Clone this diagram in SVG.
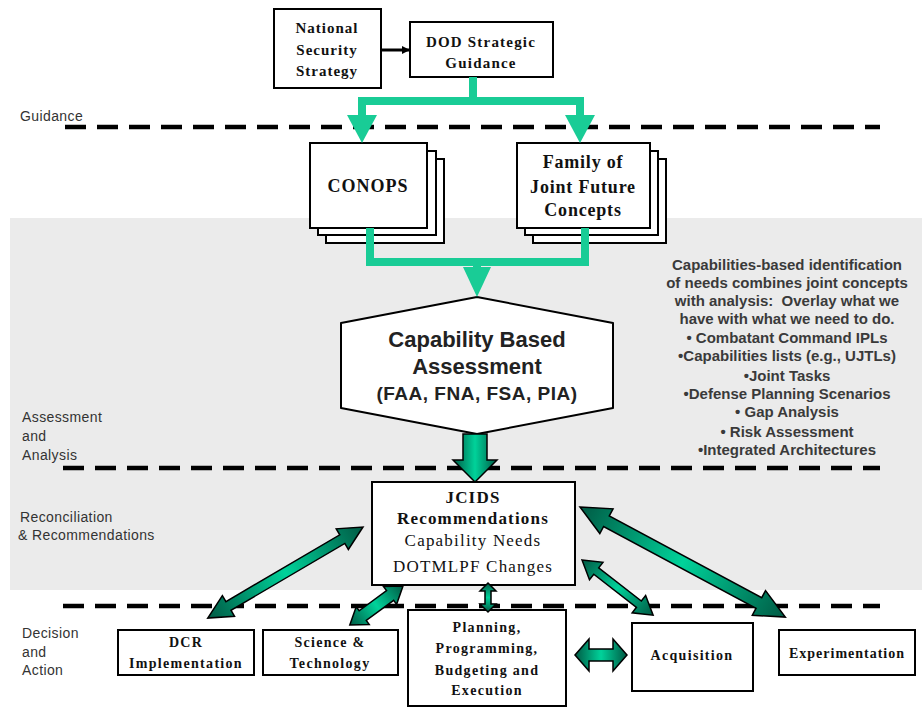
<svg xmlns="http://www.w3.org/2000/svg" width="922" height="707" viewBox="0 0 922 707">
<defs>
<linearGradient id="dg" x1="0" y1="0" x2="1" y2="0">
<stop offset="0" stop-color="#005A44"/>
<stop offset="0.5" stop-color="#00D29A"/>
<stop offset="1" stop-color="#005A44"/>
</linearGradient>
<marker id="blk" markerWidth="8" markerHeight="8" refX="7" refY="4" orient="auto" markerUnits="userSpaceOnUse">
<path d="M0,0 L8,4 L0,8 Z" fill="#000"/>
</marker>
</defs>
<style>
.box{fill:#fff;stroke:#000;stroke-width:2}
.st{font-family:"Liberation Serif",serif;font-weight:bold;fill:#111;text-anchor:middle}
.sr{font-family:"Liberation Serif",serif;fill:#111;text-anchor:middle}
.lab{font-family:"Liberation Sans",Arial,sans-serif;font-size:14px;fill:#333;letter-spacing:0.4px}
.dash{stroke:#000;stroke-width:4.5;stroke-dasharray:21 11;fill:none}
.grn{stroke:#19CC96;stroke-width:8;fill:none}
.gh{fill:#19CC96}
.da{fill:url(#dg);stroke:#000;stroke-width:1.5;stroke-linejoin:miter}
.rt{font-family:"Liberation Sans",Arial,sans-serif;font-size:15px;font-weight:bold;fill:#3a3a3a;text-anchor:middle}
</style>
<rect x="10" y="218" width="912" height="372" fill="#EBEBEB"/>
<g id="phase-lines">
<line class="dash" x1="65" y1="127" x2="880" y2="127"/>
<line class="dash" x1="63" y1="468" x2="880" y2="468"/>
<line class="dash" x1="63" y1="606" x2="880" y2="606"/>
</g>
<g id="phase-labels">
<text class="lab" x="20" y="121">Guidance</text>
<text class="lab" x="22" y="422">Assessment</text>
<text class="lab" x="22" y="441">and</text>
<text class="lab" x="22" y="460">Analysis</text>
<text class="lab" x="20" y="522">Reconciliation</text>
<text class="lab" x="18" y="540">&amp; Recommendations</text>
<text class="lab" x="22" y="638">Decision</text>
<text class="lab" x="22" y="657">and</text>
<text class="lab" x="22" y="675">Action</text>
</g>
<g id="nss">
<rect class="box" x="274" y="9" width="107" height="79"/>
<text class="st" font-size="15" letter-spacing="1" x="327" y="33">National</text>
<text class="st" font-size="15" letter-spacing="1" x="327" y="55">Security</text>
<text class="st" font-size="15" letter-spacing="1" x="327" y="76">Strategy</text>
</g>
<g id="dod">
<rect class="box" x="410" y="22" width="143" height="55"/>
<text class="st" font-size="15" letter-spacing="1.2" x="481" y="47">DOD Strategic</text>
<text class="st" font-size="15" letter-spacing="1.2" x="481" y="68">Guidance</text>
</g>
<g id="conops">
<rect class="box" x="326" y="159" width="118" height="84"/>
<rect class="box" x="318" y="151" width="118" height="84"/>
<rect class="box" x="310" y="143" width="117" height="85"/>
<text class="st" font-size="18" letter-spacing="1" x="368" y="192">CONOPS</text>
</g>
<g id="family">
<rect class="box" x="533" y="159" width="133" height="84"/>
<rect class="box" x="525" y="151" width="133" height="84"/>
<rect class="box" x="517" y="143" width="133" height="85"/>
<text class="st" font-size="18" letter-spacing="0.8" x="583" y="168">Family of</text>
<text class="st" font-size="18" letter-spacing="0.8" x="583" y="193">Joint Future</text>
<text class="st" font-size="18" letter-spacing="0.8" x="583" y="216">Concepts</text>
</g>
<g id="cba">
<path d="M477,297 L613,323 L613,408 L477,434 L341,408 L341,323 Z" fill="#fff" stroke="#000" stroke-width="2" stroke-linejoin="round"/>
<text font-family="Liberation Sans,Arial,sans-serif" font-weight="bold" font-size="22" fill="#222" text-anchor="middle" x="477" y="347">Capability Based</text>
<text font-family="Liberation Sans,Arial,sans-serif" font-weight="bold" font-size="22" fill="#222" text-anchor="middle" x="477" y="374">Assessment</text>
<text font-family="Liberation Sans,Arial,sans-serif" font-weight="bold" font-size="19" fill="#222" text-anchor="middle" x="477" y="400" letter-spacing="0.5">(FAA, FNA, FSA, PIA)</text>
</g>
<g id="note">
<text class="rt" x="787" y="270">Capabilities-based identification</text>
<text class="rt" x="787" y="288">of needs combines joint concepts</text>
<text class="rt" x="787" y="306">with analysis:&#160; Overlay what we</text>
<text class="rt" x="787" y="324">have with what we need to do.</text>
<text class="rt" x="787" y="343">• Combatant Command IPLs</text>
<text class="rt" x="787" y="361">•Capabilities lists (e.g., UJTLs)</text>
<text class="rt" x="787" y="381">•Joint Tasks</text>
<text class="rt" x="787" y="399">•Defense Planning Scenarios</text>
<text class="rt" x="787" y="417">• Gap Analysis</text>
<text class="rt" x="787" y="437">• Risk Assessment</text>
<text class="rt" x="787" y="455">•Integrated Architectures</text>
</g>
<g id="jcids">
<rect class="box" x="372" y="482" width="203" height="103"/>
<text class="st" font-size="17" letter-spacing="1.2" x="473" y="503">JCIDS</text>
<text class="st" font-size="17" letter-spacing="1.2" x="473" y="524">Recommendations</text>
<text class="sr" font-size="17" letter-spacing="1.2" x="473" y="546">Capability Needs</text>
<text class="sr" font-size="17" letter-spacing="1.2" x="473" y="572">DOTMLPF Changes</text>
</g>
<g id="dcr">
<rect class="box" x="118" y="630" width="136" height="45"/>
<text class="st" font-size="14" letter-spacing="1.3" x="186" y="647">DCR</text>
<text class="st" font-size="14" letter-spacing="1.3" x="186" y="668">Implementation</text>
</g>
<g id="st">
<rect class="box" x="263" y="630" width="135" height="45"/>
<text class="st" font-size="14" letter-spacing="1.3" x="330" y="647">Science &amp;</text>
<text class="st" font-size="14" letter-spacing="1.3" x="330" y="668">Technology</text>
</g>
<g id="ppbe">
<rect class="box" x="408" y="610" width="158" height="96"/>
<text class="st" font-size="14" letter-spacing="1.3" x="487" y="632">Planning,</text>
<text class="st" font-size="14" letter-spacing="1.3" x="487" y="653">Programming,</text>
<text class="st" font-size="14" letter-spacing="1.3" x="487" y="675">Budgeting and</text>
<text class="st" font-size="14" letter-spacing="1.3" x="487" y="695">Execution</text>
</g>
<g id="acq">
<rect class="box" x="632" y="623" width="121" height="68"/>
<text class="st" font-size="14" letter-spacing="1.3" x="692" y="660">Acquisition</text>
</g>
<g id="exp">
<rect class="box" x="779" y="630" width="136" height="45"/>
<text class="st" font-size="14" letter-spacing="1" x="847" y="658">Experimentation</text>
</g>
<g id="connectors">
<line x1="381" y1="50" x2="409" y2="50" stroke="#000" stroke-width="3" marker-end="url(#blk)"/>
<polyline class="grn" points="473,77 473,101"/>
<polyline class="grn" points="362,116 362,101 580,101 580,116"/>
<path class="gh" d="M347,115 L377,115 L362,143 Z"/>
<path class="gh" d="M565,115 L595,115 L580,143 Z"/>
<polyline class="grn" points="370,228 370,262 585,262 585,228"/>
<polyline class="grn" points="477,262 477,270"/>
<path class="gh" d="M463,267 L491,267 L477,297 Z"/>
<path class="da" d="M463,434 L487,434 L487,460 L497,460 L475,482 L453,460 L463,460 Z"/>
<path class="da" transform="translate(363,527) rotate(149.6)" d="M0,0 L24,-12 L24,-5 L156,-5 L156,-12 L180,0 L156,12 L156,5 L24,5 L24,12 Z"/>
<path class="da" transform="translate(403,586) rotate(143.7)" d="M0,0 L16,-11 L16,-6 L50,-6 L50,-11 L66,0 L50,11 L50,6 L16,6 L16,11 Z"/>
<path class="da" transform="translate(488,583) rotate(90)" d="M0,0 L8,-8 L8,-3 L21,-3 L21,-8 L29,0 L21,8 L21,3 L8,3 L8,8 Z"/>
<path class="da" transform="translate(582,560) rotate(37.8)" d="M0,0 L18,-11 L18,-4 L72,-4 L72,-11 L90,0 L72,11 L72,4 L18,4 L18,11 Z"/>
<path class="da" transform="translate(580,507) rotate(28.2)" d="M0,0 L30,-14 L30,-6 L203,-6 L203,-14 L233,0 L203,14 L203,6 L30,6 L30,14 Z"/>
<path class="da" transform="translate(575,655)" d="M0,0 L14,-16 L14,-6 L38,-6 L38,-16 L52,0 L38,16 L38,6 L14,6 L14,16 Z"/>
</g>
</svg>
